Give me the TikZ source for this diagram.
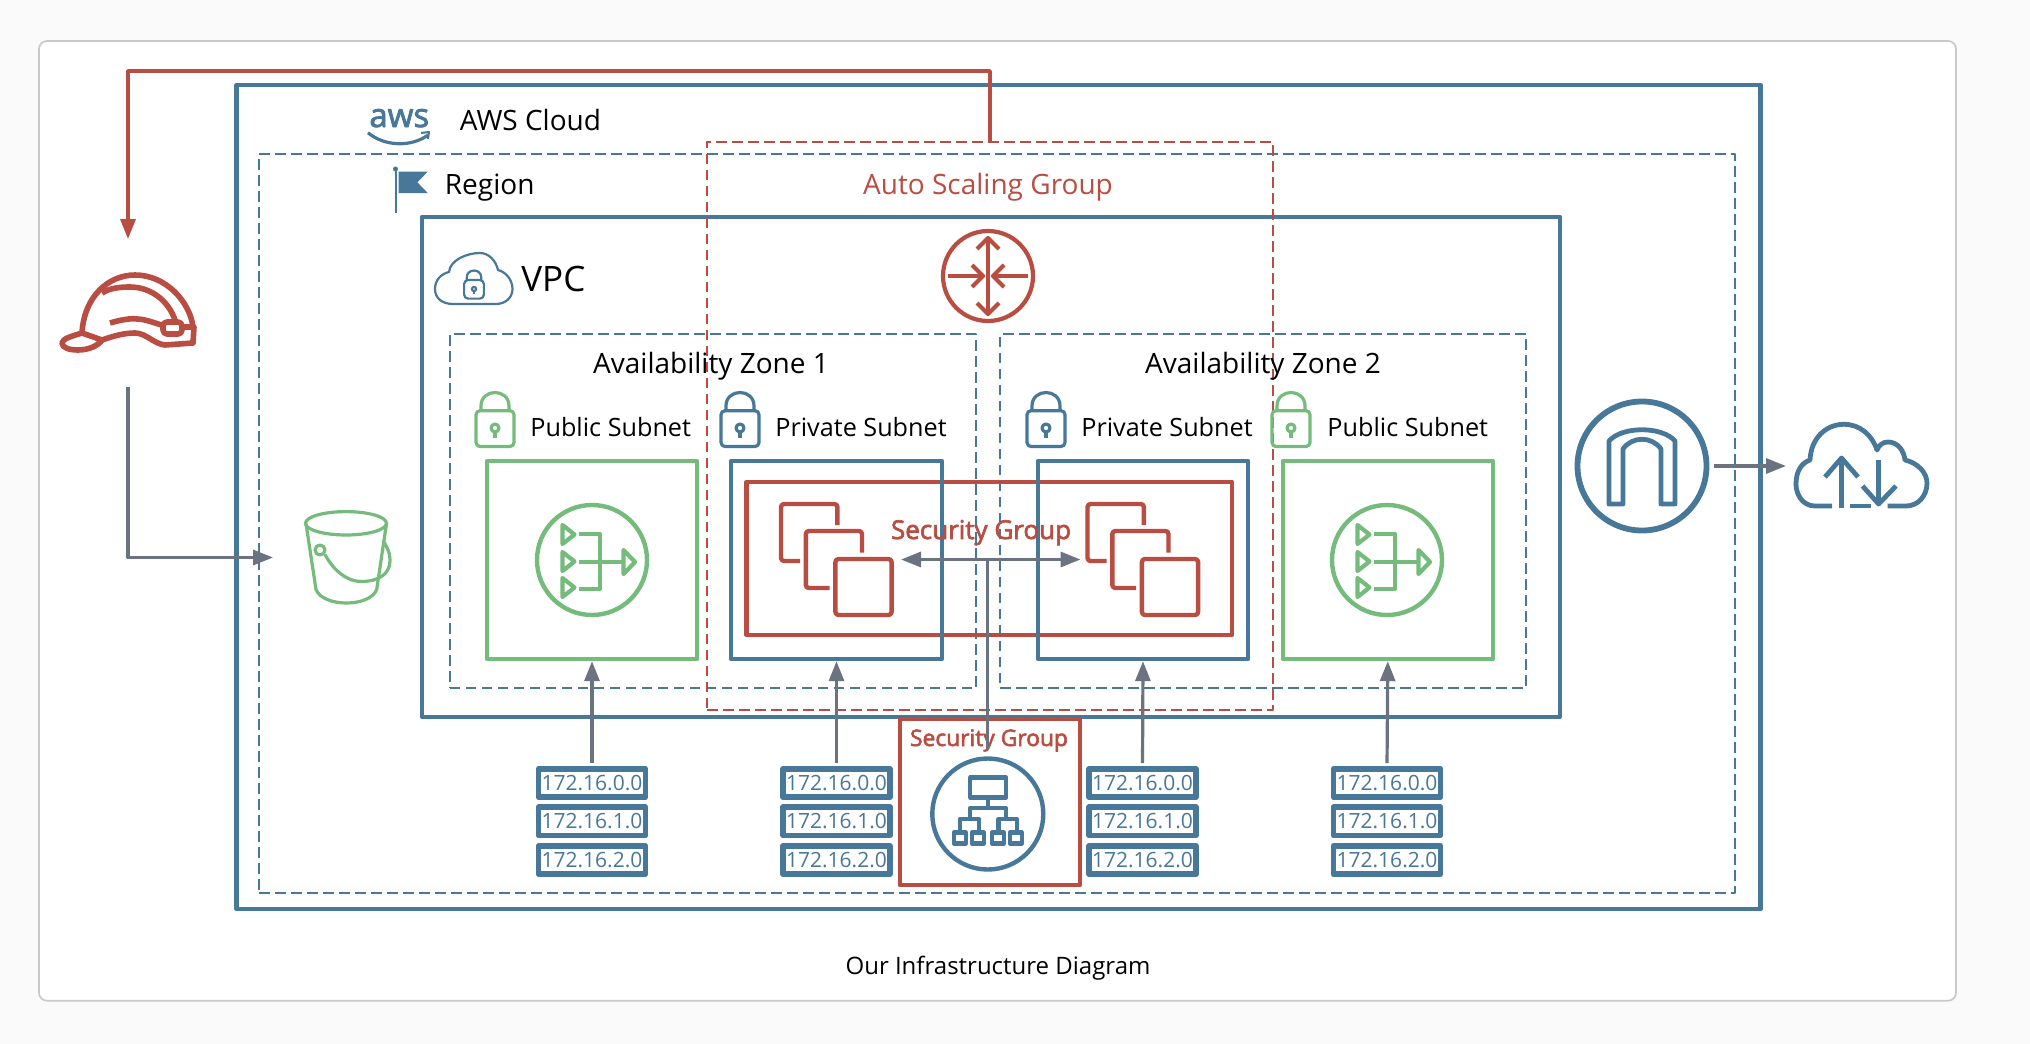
\documentclass[tikz,border=0pt]{standalone}
\usepackage{fontspec}
\setmainfont{Open Sans}
\newfontfamily\sgfont[FakeBold=2.5]{Open Sans}
\usetikzlibrary{arrows.meta}
\definecolor{awsblue}{HTML}{47789A}
\definecolor{awsred}{HTML}{B94D42}
\definecolor{awsgreen}{HTML}{74BB7C}
\definecolor{linegrey}{HTML}{6B7280}
\definecolor{pagegrey}{HTML}{FAFAFA}
\definecolor{cardgrey}{HTML}{C9C9C9}
\tikzset{
	solidbox/.style={rectangle,draw,inner sep=0pt,line width=2.2pt},
	dashbox/.style={rectangle,draw,inner sep=0pt,line width=1pt,dash pattern=on 5.3pt off 2.7pt},
	iconbox/.style={rectangle,inner sep=0pt,outer sep=0pt},
	iconring/.style={circle,draw,inner sep=0pt,line width=2.2pt},
	ipbox/.style={rectangle,draw=awsblue,text=awsblue,inner sep=0pt,line width=2.8pt,minimum width=53.5pt,minimum height=14.2pt,font=\fontsize{10.5}{13}\selectfont},
	lblbase/.style={anchor=base west,inner sep=0pt,font=\fontsize{14}{17}\selectfont},
	lblsub/.style={anchor=base west,inner sep=0pt,font=\fontsize{12.6}{15}\selectfont},
	lblmid/.style={anchor=base,inner sep=0pt,font=\fontsize{14}{16}\selectfont},
	greyarrow/.style={draw=linegrey,line width=1.6pt,-{Triangle[length=10pt,width=7.5pt]}},
	redarrow/.style={draw=awsred,line width=1.7pt,-{Triangle[length=10pt,width=7.5pt]}},
	lockicon/.pic={
		\draw[pic actions,rounded corners=2pt] (-19,-17.3) rectangle (19,18.5);
		\draw[pic actions] (-14,-17.3)-- (-14,-22) .. controls (-14,-40) and (14,-40) .. (14,-22)-- (14,-17.3);
		\draw[pic actions] (0,0) circle (4);
		\draw[pic actions] (0,4)-- (0,10);
	},
	naticon/.pic={
		\draw[pic actions] (-29.5,-35)-- (-29.5,-16)-- (-17.5,-25.5)-- cycle;
		\draw[pic actions] (-29.5,-8)-- (-29.5,11)-- (-17.5,1.5)-- cycle;
		\draw[pic actions] (-29.5,18)-- (-29.5,37)-- (-17.5,27.5)-- cycle;
		\draw[pic actions] (-13,-26)-- (8,-26)-- (8,28.7)-- (-13,28.7);
		\draw[pic actions] (-13,1.7)-- (30,1.7);
		\draw[pic actions] (31.5,-10)-- (31.5,14)-- (43,2)-- cycle;
	},
	instanceicon/.pic={
		\draw[pic actions,rounded corners=1.5pt] (0.9,-34.5)-- (0.9,-55.5)-- (-55.5,-55.5)-- (-55.5,1.5)-- (-36.5,1.5);
		\draw[pic actions,rounded corners=1.5pt] (25.5,-6.8)-- (25.5,-28.5)-- (-30.7,-28.5)-- (-30.7,28.5)-- (-7,28.5);
		\draw[pic actions,rounded corners=1.5pt] (-1.1,-0.5) rectangle (55.1,55.5);
	}
}
\begin{document}
\begin{tikzpicture}[x=0.5pt,y=-0.5pt,line join=round]
	\useasboundingbox (0,0) rectangle (2030,1044);
	\fill[pagegrey] (0,0) rectangle (2030,1044);
	\node[rectangle,draw=cardgrey,fill=white,line width=0.85pt,rounded corners=4pt,minimum width=958.5pt,minimum height=479.85pt] (card) at (997.5,520.85) {};
	\node[solidbox,draw=awsblue,minimum width=762pt,minimum height=412pt] (awscloud) at (998.65,497) {};
	\node[dashbox,draw=awsblue,minimum width=738pt,minimum height=369.5pt] (region) at (997,523.5) {};
	\node[solidbox,draw=awsblue,minimum width=569pt,minimum height=249.85pt] (vpc) at (991,466.85) {};
	\node[dashbox,draw=awsblue,minimum width=263.25pt,minimum height=177pt] (azA) at (712.75,511) {};
	\node[dashbox,draw=awsblue,minimum width=262.85pt,minimum height=177pt] (azB) at (1263.15,511) {};
	\node[solidbox,draw=awsred,minimum width=242.75pt,minimum height=76.65pt] (sgtop) at (989.25,558.35) {};
	\node[solidbox,draw=awsgreen,minimum width=105pt,minimum height=99pt] (pubA) at (592,560) {};
	\node[solidbox,draw=awsblue,minimum width=105.5pt,minimum height=99pt] (privA) at (836.5,560) {};
	\node[solidbox,draw=awsblue,minimum width=105pt,minimum height=99pt] (privB) at (1143,560) {};
	\node[solidbox,draw=awsgreen,minimum width=105pt,minimum height=99pt] (pubB) at (1387.8,560) {};
	\node[dashbox,draw=awsred,minimum width=283pt,minimum height=284pt] (asg) at (990,425.7) {};
	\node[solidbox,draw=awsred,minimum width=90.1pt,minimum height=83pt] (sglb) at (989.9,802) {};

	\node[lblbase] (awslabel) at (459.5,130) {AWS Cloud};
	\node[lblbase] (regionlabel) at (444.5,194.5) {Region};
	\node[anchor=base west,inner sep=0pt,font=\fontsize{17.5}{21}\selectfont] (vpclabel) at (521,291.7) {VPC};
	\node[lblmid] (azAlabel) at (711,373) {Availability Zone 1};
	\node[lblmid] (azBlabel) at (1263,373) {Availability Zone 2};
	\node[lblsub] (pubAlabel) at (530,436) {Public Subnet};
	\node[lblsub] (privAlabel) at (775,436) {Private Subnet};
	\node[lblsub] (privBlabel) at (1081,436) {Private Subnet};
	\node[lblsub] (pubBlabel) at (1327,436) {Public Subnet};
	\node[anchor=base,inner sep=0pt,text=awsred,font=\fontsize{14}{17}\selectfont] (asglabel) at (988,194) {Auto Scaling Group};
	\node[anchor=base,inner sep=0pt,text=awsred,font=\sgfont\fontsize{13}{15}\selectfont] (sgtoplabel) at (981,539) {Security Group};
	\node[anchor=base,inner sep=0pt,text=awsred,font=\sgfont\fontsize{11.4}{13}\selectfont] (sglblabel) at (989,746) {Security Group};
	\node[anchor=base,inner sep=0pt,font=\fontsize{12}{14}\selectfont] (caption) at (998,974) {Our Infrastructure Diagram};

	\node[anchor=base west,inner sep=0pt,text=awsblue,font=\sgfont\fontsize{16.5}{18}\selectfont] (awslogo) at (369,127) {aws};
	\draw[awsblue,line width=1.6pt] (368,132.7) .. controls (385,147) and (412,147) .. (428,135);
	\draw[awsblue,line width=1pt] (421,133)-- (429,132)-- (428,139);
	\fill[awsblue] (398.7,171.7)-- (427.7,171.7)-- (417.4,182.3)-- (427.7,193)-- (398.7,193)-- cycle;
	\draw[awsblue,line width=1pt] (395.5,168)-- (395.5,213);
	\fill[awsblue] (395.5,169) circle (2.5);
	\draw[awsblue,line width=1.1pt] (453,304) .. controls (442,304) and (435,298) .. (435,289) .. controls (435,280) and (441,274) .. (449,272) .. controls (450,260) and (467,253) .. (480,253) .. controls (489,253) and (496,261) .. (498,270) .. controls (506,272) and (512.5,280) .. (512.5,289) .. controls (512.5,298) and (505,304) .. (496,304)-- cycle;
	\pic[draw=awsblue,line width=1.1pt,scale=0.52] at (474,289) {lockicon};
	\foreach \xc/\lockcol in {495/awsgreen,740/awsblue,1046/awsblue,1291/awsgreen}
		\pic[draw=\lockcol,line width=1.6pt] at (\xc,428) {lockicon};

	\node[iconring,draw=awsgreen,minimum size=55pt] (natA) at (592,560) {};
	\pic[draw=awsgreen,line width=2.1pt] at (592,560) {naticon};
	\node[iconring,draw=awsgreen,minimum size=55pt] (natB) at (1387,560) {};
	\pic[draw=awsgreen,line width=2.1pt] at (1387,560) {naticon};
	\node[iconbox,minimum width=55.5pt,minimum height=55.5pt] (instA) at (836.5,559.5) {};
	\pic[draw=awsred,line width=2.2pt] at (836.5,559.5) {instanceicon};
	\node[iconbox,minimum width=55.5pt,minimum height=55.5pt] (instB) at (1143,559.5) {};
	\pic[draw=awsred,line width=2.2pt] at (1143,559.5) {instanceicon};

	\node[iconring,draw=awsred,line width=2.1pt,minimum size=45pt] (router) at (988,276) {};
	\begin{scope}[shift={(988,276)},line width=2.1pt]
		\draw[awsred] (0,-38)-- (0,38);
		\draw[awsred] (-11,-27)-- (0,-38)-- (11,-27);
		\draw[awsred] (-11,27)-- (0,38)-- (11,27);
		\draw[awsred] (-40,0)-- (-5,0);
		\draw[awsred] (-16,-11)-- (-5,0)-- (-16,11);
		\draw[awsred] (40,0)-- (5,0);
		\draw[awsred] (16,-11)-- (5,0)-- (16,11);
	\end{scope}

	\node[iconring,draw=awsblue,minimum size=64.5pt,line width=2.9pt] (igw) at (1642,466) {};
	\draw[awsblue,line width=2.4pt,shift={(1642,466)}] (-33,38)-- (-33,-25) .. controls (-20,-40) and (20,-40) .. (33,-25)-- (33,38)-- (19,38)-- (19,-17) .. controls (10,-30) and (-10,-30) .. (-19,-17)-- (-19,38)-- cycle;

	\node[iconbox,minimum width=67pt,minimum height=42pt] (inet) at (1861,466) {};
	\begin{scope}[shift={(1861,466)},line width=2.4pt]
		\draw[awsblue] (-29,40)-- (-46,40) .. controls (-58,40) and (-65,29) .. (-65,18) .. controls (-65,6) and (-60,-3) .. (-51,-6) .. controls (-50,-28) and (-35,-41.7) .. (-17,-41.7) .. controls (-1,-41.7) and (11,-31) .. (16,-16) .. controls (18,-21) and (22,-24) .. (27,-24) .. controls (37,-24) and (43,-15) .. (44,-6) .. controls (57,-3) and (66,7) .. (66,17) .. controls (66,30) and (57,40) .. (45,40)-- (26.5,40);
		\draw[awsblue] (-11,40)-- (9.5,40);
		\draw[awsblue] (-19.5,42)-- (-19.5,-8);
		\draw[awsblue] (-36,11)-- (-19.5,-8)-- (-3,11);
		\draw[awsblue] (17.6,-6)-- (17.6,38);
		\draw[awsblue] (1.5,20)-- (17.6,38)-- (35,20);
	\end{scope}

	\node[iconbox,minimum width=67.5pt,minimum height=39pt] (helmet) at (128,312) {};
	\begin{scope}[shift={(128,312)},line width=2.8pt]
		\draw[awsred] (-46,21) .. controls (-44,-15) and (-20,-37) .. (7,-37) .. controls (38,-37) and (62,-10) .. (65,15);
		\draw[awsred] (-26,-19) .. controls (-18,-24) and (-8,-25) .. (2,-25) .. controls (24,-25) and (41,-10) .. (47,8);
		\draw[awsred] (-18,11) .. controls (-8,8) and (3,6) .. (9,7) .. controls (17,7) and (26,11) .. (34,13);
		\draw[awsred,rounded corners=2pt] (35,10) rectangle (54,22);
		\draw[awsred] (-46,21) .. controls (-56,24) and (-66,27) .. (-66,31) .. controls (-66,36) and (-58,38) .. (-50,38) .. controls (-40,38) and (-30,34) .. (-26,28)-- cycle;
		\draw[awsred] (-26,28) .. controls (-12,23) and (-2,21) .. (7,21) .. controls (18,21) and (26,32) .. (37,33)-- (65,31)-- (66,15)-- (55,15);
	\end{scope}

	\node[iconbox,minimum width=43pt,minimum height=45.5pt] (bucket) at (348,557.5) {};
	\begin{scope}[shift={(348,557.5)},line width=1.6pt]
		\draw[awsgreen] (-2,-34.2) ellipse [x radius=40.5,y radius=11.7];
		\draw[awsgreen] (-42,-34)-- (-32,32) .. controls (-25,50) and (22,50) .. (28.7,32)-- (38.5,-34);
		\draw[awsgreen] (-28,-7.5) circle (5);
		\draw[awsgreen] (-23,-3) .. controls (-14,14) and (0,24) .. (13,24) .. controls (30,24) and (42,17) .. (42,3) .. controls (42,-6) and (38,-12) .. (35,-17);
	\end{scope}

	\node[iconring,draw=awsblue,minimum size=55.5pt] (lb) at (987.8,814) {};
	\begin{scope}[shift={(987.8,814)},line width=2.1pt]
		\draw[awsblue] (-17.5,-36.5) rectangle (18.5,-16.5);
		\draw[awsblue] (0,-16.5)-- (0,-6);
		\draw[awsblue] (-18,5)-- (-18,-6)-- (18,-6)-- (18,5);
		\draw[awsblue] (-28,17)-- (-28,5)-- (-9,5)-- (-9,17);
		\draw[awsblue] (10.7,17)-- (10.7,5)-- (29,5)-- (29,17);
		\foreach \lx in {-34,-16,4,22}
			\draw[awsblue] (\lx,18.5) rectangle ++(12,11);
	\end{scope}

	\foreach \nm/\xc in {A/592,B/836.5,C/1142.5,D/1387}
		\foreach \rw/\yc/\ip in {0/783/172.16.0.0,1/821.3/172.16.1.0,2/860/172.16.2.0}
			\node[ipbox] (ip\nm\rw) at (\xc,\yc) {\ip};

	\foreach \nm/\sn in {A/pubA,B/privA,C/privB,D/pubB}
		\draw[greyarrow,shorten <=1.5pt] (ip\nm0.north) -- (\sn.south);
	\draw[redarrow,shorten >=17pt] (asg.north) -- (asg.north |- 128,71) -- (128,71) -- (helmet.north);
	\draw[greyarrow,shorten <=18pt,shorten >=16pt] (helmet.south) |- (bucket.west);
	\draw[draw=linegrey,line width=1.6pt,{Triangle[length=10pt,width=7.5pt]}-{Triangle[length=10pt,width=7.5pt]},shorten <=4.5pt,shorten >=3.5pt] (instA.east) -- (instB.west);
	\draw[draw=linegrey,line width=1.6pt,shorten <=3.5pt] (lb.north) -- (lb.north |- instA.east);
	\draw[greyarrow,shorten <=2.5pt,shorten >=4pt] (igw.east) -- (inet.west);
\end{tikzpicture}
\end{document}
